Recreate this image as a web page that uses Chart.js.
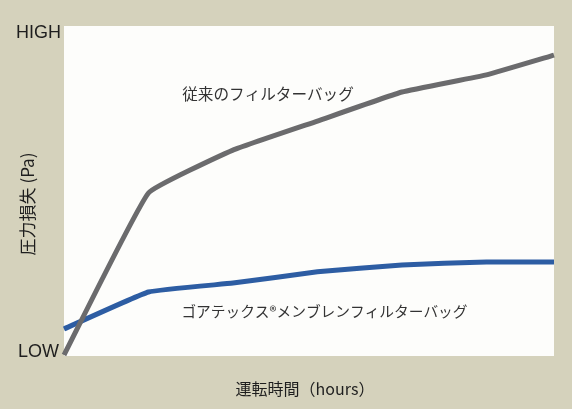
<!DOCTYPE html>
<html>
<head>
<meta charset="utf-8">
<script src="https://cdn.jsdelivr.net/npm/chart.js@4"></script>
<style>
  html, body { margin: 0; padding: 0; background: #d5d2bc; }
  #wrap { width: 572px; height: 409px; }
</style>
</head>
<body>
<div id="wrap"><canvas id="lineCanvas" width="572" height="409"></canvas></div>
<script>
// hours (relative, no scale printed on the chart)
var hours = [0, 1, 2, 3, 4, 5, 5.8];
// pressure loss, 0 = LOW, 100 = HIGH
var conventionalBag = [0.3, 49.4, 62.4, 71.2, 80, 85.2, 91.2];
var membraneBag = [8.2, 19.4, 22.1, 25.5, 27.6, 28.5, 28.5];
var seriesNames = ['従来のフィルターバッグ', 'ゴアテックス®メンブレンフィルターバッグ'];
var tickLabels = ['LOW', 'HIGH'];
var yTitle = '圧力損失 (Pa)';
var xTitle = '運転時間（hours）';

function toPoints(xs, ys) {
    var pts = [];
    for (var i = 0; i < xs.length; i++) {
        pts.push({x: xs[i], y: ys[i]});
    }
    return pts;
}

var jpFont = '"Noto Sans CJK JP", "Noto Sans", sans-serif';

// white plot area + all the text around it
var decorPlugin = {
    id: 'decor',
    beforeDraw: function(chart) {
        var ctx = chart.ctx, a = chart.chartArea;
        ctx.save();
        ctx.fillStyle = '#fdfdfb';
        ctx.fillRect(a.left, a.top, a.right - a.left, a.bottom - a.top);
        ctx.restore();
    },
    afterDraw: function(chart) {
        var ctx = chart.ctx, a = chart.chartArea;
        var xs = chart.scales.x, ys = chart.scales.y;
        ctx.save();
        ctx.fillStyle = '#1e1e1e';
        ctx.textBaseline = 'middle';

        // y tick labels
        ctx.font = '18px "Liberation Sans", Arial, sans-serif';
        ctx.textAlign = 'right';
        ctx.fillText(tickLabels[1], a.left - 3, ys.getPixelForValue(100) + 7);
        ctx.fillText(tickLabels[0], a.left - 5, ys.getPixelForValue(0) - 4);

        // y title
        ctx.font = '17px ' + jpFont;
        ctx.textAlign = 'center';
        ctx.save();
        ctx.translate(28, (a.top + a.bottom) / 2 + 13);
        ctx.rotate(-Math.PI / 2);
        ctx.fillText(yTitle, 0, 0);
        ctx.restore();

        // x title
        ctx.font = '16px ' + jpFont;
        ctx.fillText(xTitle, 305, 389);

        // series labels
        ctx.fillStyle = '#333';
        ctx.textAlign = 'left';
        ctx.font = '15.6px ' + jpFont;
        ctx.fillText(seriesNames[0], xs.getPixelForValue(1.4), ys.getPixelForValue(79.4));
        ctx.font = '14.7px ' + jpFont;
        ctx.fillText(seriesNames[1], xs.getPixelForValue(1.39), ys.getPixelForValue(13.6));
        ctx.restore();
    }
};

var ctx = document.getElementById('lineCanvas').getContext('2d');
window.myLine = new Chart(ctx, {
    type: 'line',
    data: {
        datasets: [{
            label: seriesNames[0],
            data: toPoints(hours, conventionalBag),
            borderColor: '#6b6b6d',
            borderWidth: 5,
            pointRadius: 0,
            tension: 0.1,
            clip: false
        }, {
            label: seriesNames[1],
            data: toPoints(hours, membraneBag),
            borderColor: '#2d5da3',
            borderWidth: 5,
            pointRadius: 0,
            tension: 0.1,
            clip: false
        }]
    },
    options: {
        responsive: false,
        animation: false,
        layout: {
            padding: {left: 64, right: 18, top: 26, bottom: 53}
        },
        plugins: {
            legend: {display: false},
            tooltip: {enabled: false}
        },
        scales: {
            x: {type: 'linear', min: 0, max: 5.8, display: false},
            y: {min: 0, max: 100, display: false}
        }
    },
    plugins: [decorPlugin]
});
</script>
</body>
</html>
